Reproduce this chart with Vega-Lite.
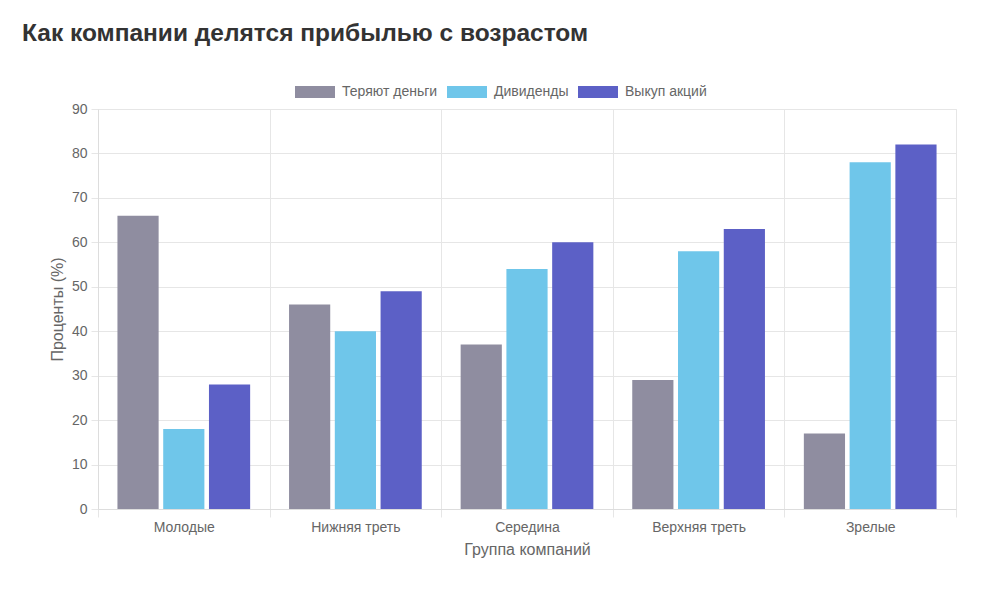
{
  "$schema": "https://vega.github.io/schema/vega-lite/v6.json",
  "width": 858,
  "height": 400,
  "autosize": {"type": "none"},
  "padding": {"left": 98, "top": 109, "right": 44, "bottom": 100},
  "background": "#ffffff",
  "config": {
    "font": "Liberation Sans",
    "view": {"stroke": "#e6e6e6", "strokeWidth": 1}
  },
  "title": {
    "text": "Как компании делятся прибылью с возрастом",
    "anchor": "start",
    "frame": "group",
    "dx": -76,
    "fontSize": 24.5,
    "fontWeight": "bold",
    "font": "Liberation Sans",
    "color": "#333333",
    "offset": 26
  },
  "data": {
    "values": [
      {"group": "Молодые", "series": "Теряют деньги", "value": 66},
      {"group": "Молодые", "series": "Дивиденды", "value": 18},
      {"group": "Молодые", "series": "Выкуп акций", "value": 28},
      {"group": "Нижняя треть", "series": "Теряют деньги", "value": 46},
      {"group": "Нижняя треть", "series": "Дивиденды", "value": 40},
      {"group": "Нижняя треть", "series": "Выкуп акций", "value": 49},
      {"group": "Середина", "series": "Теряют деньги", "value": 37},
      {"group": "Середина", "series": "Дивиденды", "value": 54},
      {"group": "Середина", "series": "Выкуп акций", "value": 60},
      {"group": "Верхняя треть", "series": "Теряют деньги", "value": 29},
      {"group": "Верхняя треть", "series": "Дивиденды", "value": 58},
      {"group": "Верхняя треть", "series": "Выкуп акций", "value": 63},
      {"group": "Зрелые", "series": "Теряют деньги", "value": 17},
      {"group": "Зрелые", "series": "Дивиденды", "value": 78},
      {"group": "Зрелые", "series": "Выкуп акций", "value": 82}
    ]
  },
  "mark": {"type": "bar"},
  "encoding": {
    "x": {
      "field": "group",
      "type": "nominal",
      "sort": ["Молодые", "Нижняя треть", "Середина", "Верхняя треть", "Зрелые"],
      "scale": {"paddingInner": 0, "paddingOuter": 0},
      "axis": {
        "title": "Группа компаний",
        "titleFontSize": 16,
        "titleFontWeight": "normal",
        "titleColor": "#666666",
        "titlePadding": 7,
        "labelAngle": 0,
        "labelFontSize": 14,
        "labelColor": "#666666",
        "labelPadding": 3,
        "tickBand": "extent",
        "ticks": true,
        "tickSize": 8,
        "tickColor": "#e6e6e6",
        "grid": true,
        "gridColor": "#e6e6e6",
        "domainColor": "#dddddd"
      }
    },
    "xOffset": {
      "field": "series",
      "sort": ["Теряют деньги", "Дивиденды", "Выкуп акций"],
      "scale": {"paddingInner": 0.1, "paddingOuter": 0.425}
    },
    "y": {
      "field": "value",
      "type": "quantitative",
      "scale": {"domain": [0, 90]},
      "axis": {
        "title": "Проценты (%)",
        "titleFontSize": 16,
        "titleFontWeight": "normal",
        "titleColor": "#666666",
        "titlePadding": 6,
        "values": [0, 10, 20, 30, 40, 50, 60, 70, 80, 90],
        "labelFontSize": 14,
        "labelColor": "#666666",
        "labelPadding": 4,
        "tickSize": 7,
        "tickColor": "#e6e6e6",
        "gridColor": "#e6e6e6",
        "domainColor": "#dddddd"
      }
    },
    "color": {
      "field": "series",
      "type": "nominal",
      "scale": {
        "domain": ["Теряют деньги", "Дивиденды", "Выкуп акций"],
        "range": ["#8f8da0", "#6fc6ea", "#5c60c6"]
      },
      "legend": {
        "title": null,
        "orient": "none",
        "legendX": 197,
        "legendY": -37,
        "direction": "horizontal",
        "symbolType": "M-1,-0.3H1V0.3H-1Z",
        "symbolSize": 1600,
        "symbolStrokeWidth": 0,
        "symbolOpacity": 1,
        "labelFontSize": 14,
        "labelColor": "#666666",
        "labelOffset": 7,
        "columnPadding": 9
      }
    }
  }
}
